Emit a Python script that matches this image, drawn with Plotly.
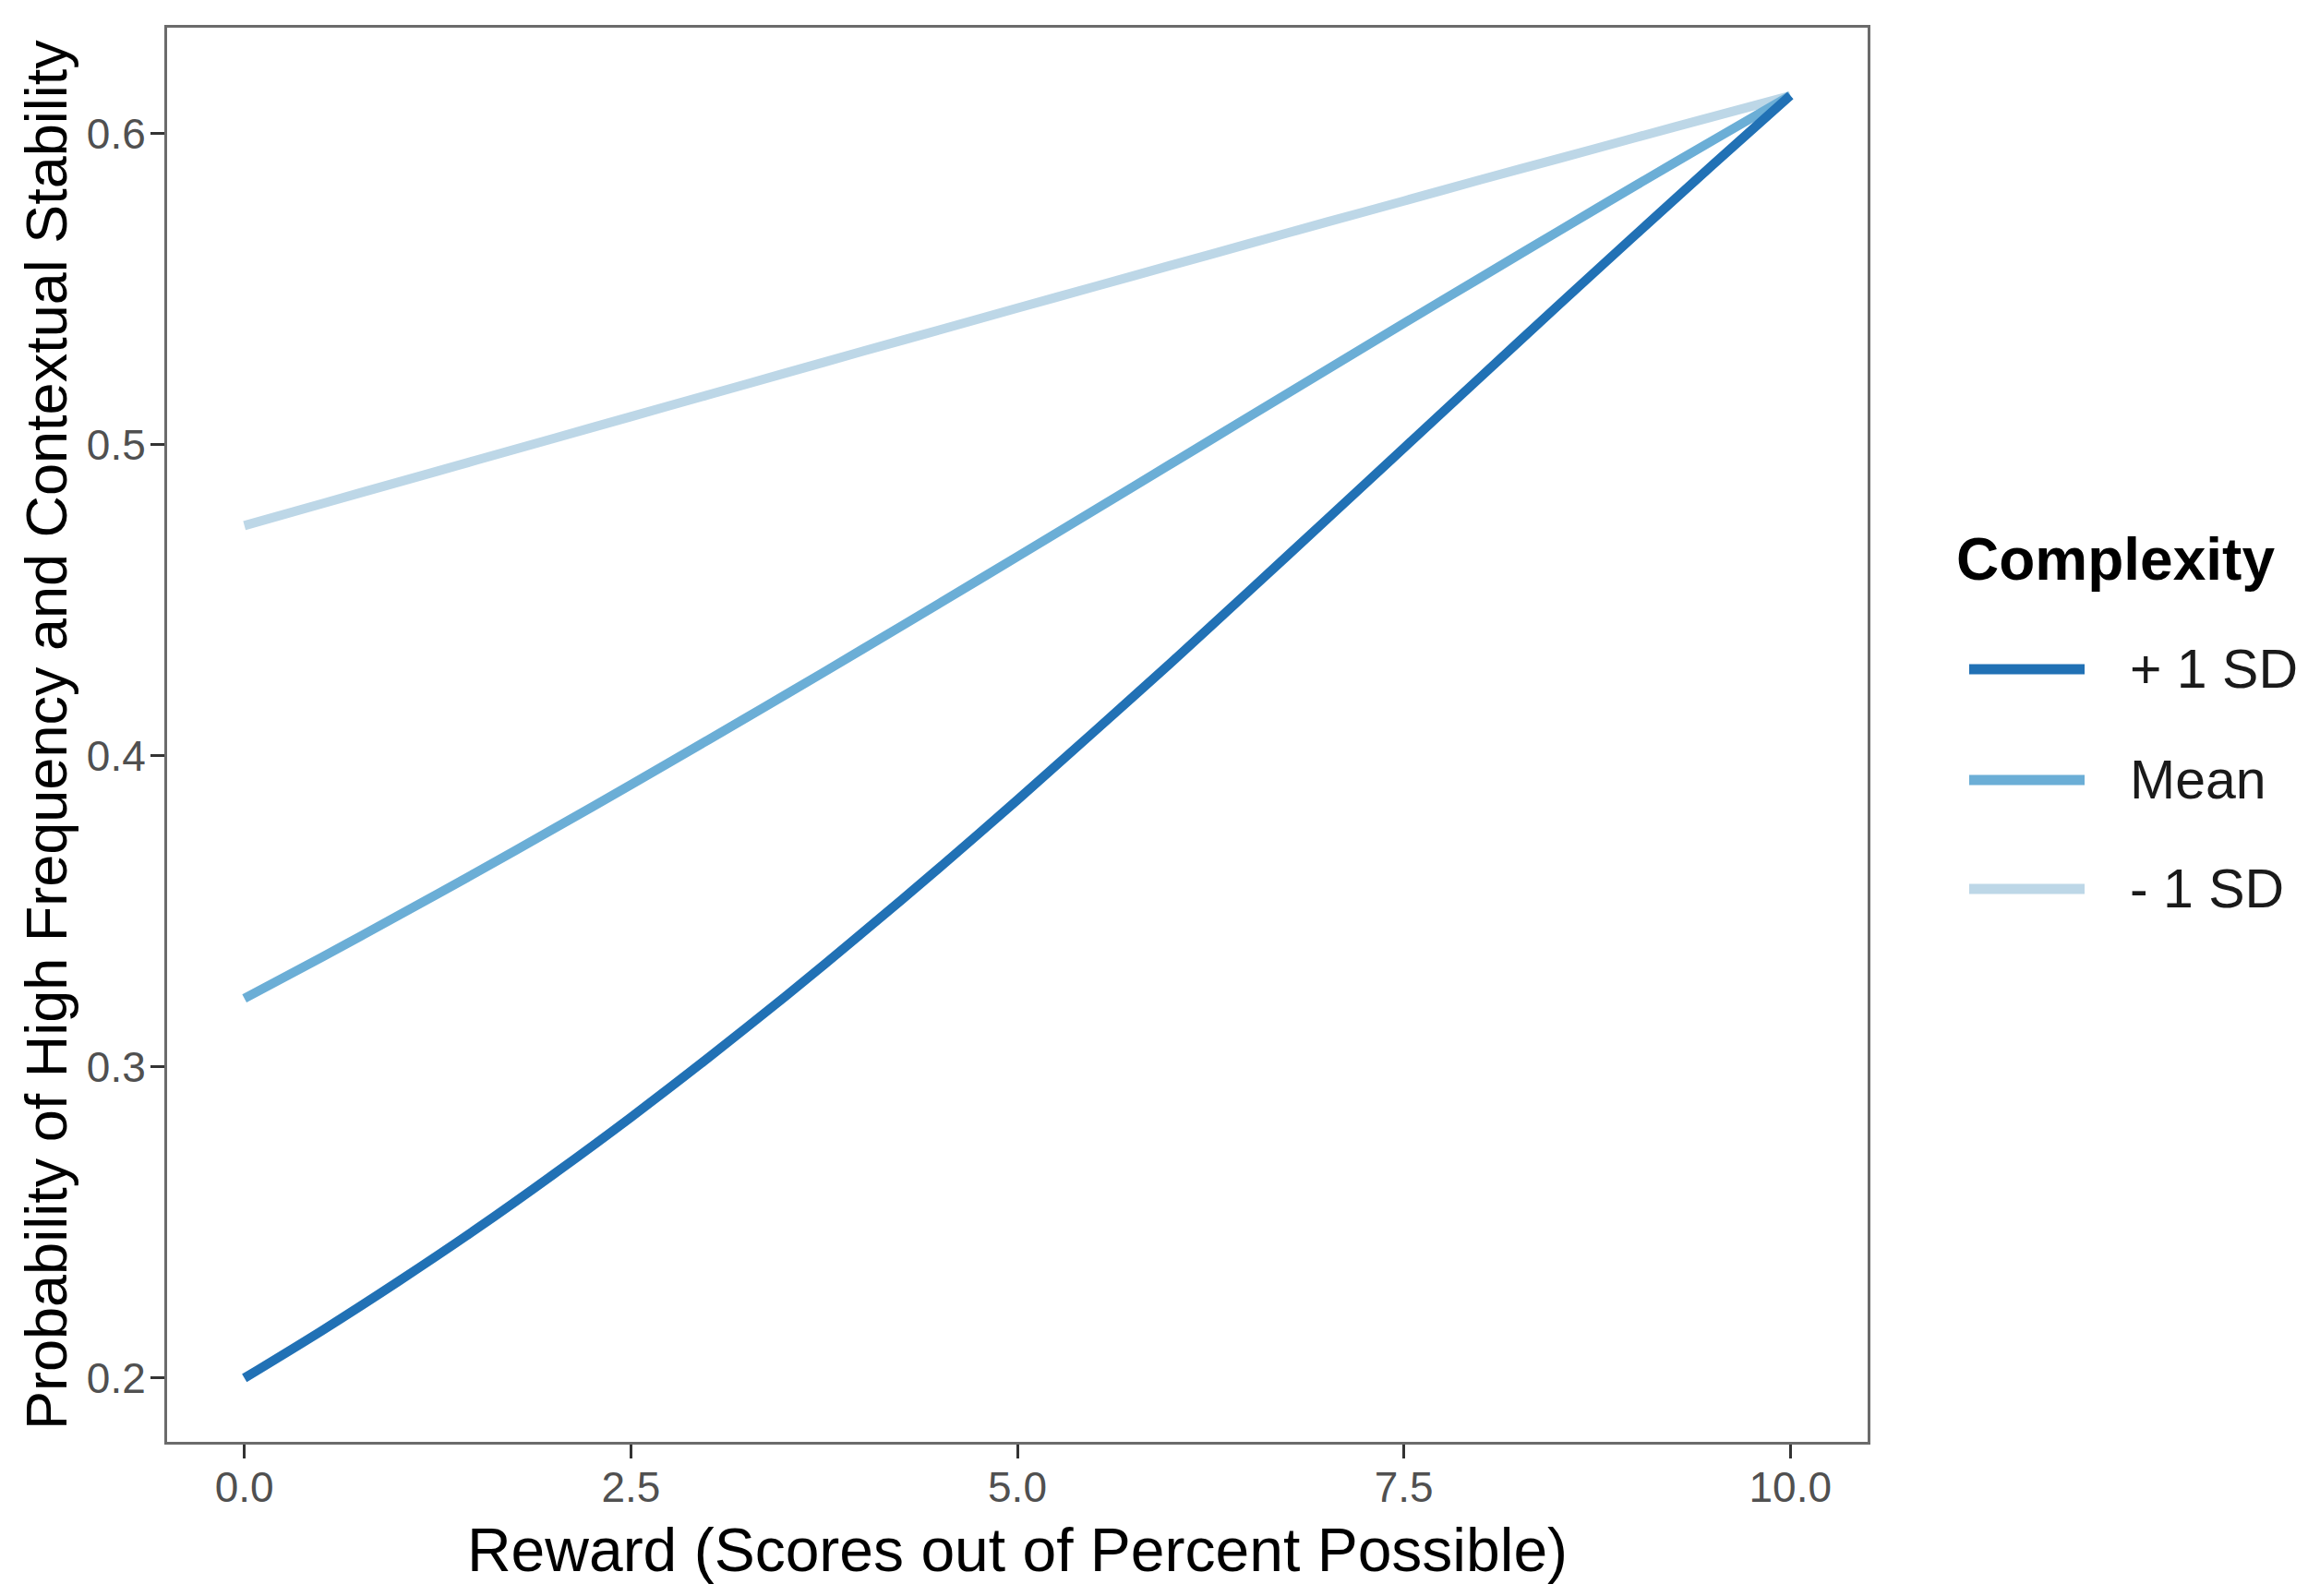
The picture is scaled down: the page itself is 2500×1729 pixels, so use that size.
import plotly.graph_objects as go

# ---- data ----
reward = [0.0, 0.5, 1.0, 1.5, 2.0, 2.5, 3.0, 3.5, 4.0, 4.5, 5.0,
          5.5, 6.0, 6.5, 7.0, 7.5, 8.0, 8.5, 9.0, 9.5, 10.0]
plus_1sd = [0.2000, 0.2152, 0.2312, 0.2479, 0.2655, 0.2838, 0.3029, 0.3227, 0.3432, 0.3642, 0.3858,
            0.4079, 0.4302, 0.4530, 0.4759, 0.4989, 0.5219, 0.5448, 0.5675, 0.5900, 0.6122]
mean_cx = [0.3220, 0.3352, 0.3488, 0.3625, 0.3765, 0.3907, 0.4051, 0.4196, 0.4343, 0.4491, 0.4640,
           0.4790, 0.4940, 0.5090, 0.5240, 0.5390, 0.5538, 0.5686, 0.5833, 0.5978, 0.6122]
minus_1sd = [0.4740, 0.4810, 0.4880, 0.4950, 0.5020, 0.5090, 0.5160, 0.5230, 0.5300, 0.5369, 0.5439,
             0.5508, 0.5577, 0.5646, 0.5715, 0.5783, 0.5852, 0.5919, 0.5987, 0.6054, 0.6121]

series_names = ["+ 1 SD", "Mean", "- 1 SD"]
series_values = [plus_1sd, mean_cx, minus_1sd]
series_colors = ["#2171B5", "#6BAED6", "#BDD7E7"]

x_ticks = [0.0, 2.5, 5.0, 7.5, 10.0]
x_tick_labels = ["0.0", "2.5", "5.0", "7.5", "10.0"]
y_ticks = [0.2, 0.3, 0.4, 0.5, 0.6]
y_tick_labels = ["0.2", "0.3", "0.4", "0.5", "0.6"]

x_title = "Reward (Scores out of Percent Possible)"
y_title = "Probability of High Frequency and Contextual Stability"
legend_title = "Complexity"

FONT = "Liberation Sans, Arial, Helvetica, sans-serif"
PAGE_W, PAGE_H = 2500, 1729
BODY = 8  # default page body margin of the html page
PL, PR, PT, PB = 181, 2023, 30, 1562  # plot area in page pixels
W, H = PAGE_W - BODY, PAGE_H - BODY

fig = go.Figure()
# draw lightest first so darker lines sit on top
for name, vals, col in reversed(list(zip(series_names, series_values, series_colors))):
    fig.add_trace(go.Scatter(x=reward, y=vals, mode="lines", name=name,
                             line=dict(color=col, width=10, shape="spline", smoothing=0.8),
                             showlegend=False))

def px_to_paper(xp, yp):
    return (xp - PL) / (PR - PL), (PB - yp) / (PB - PT)

shapes = []
annotations = []
# y-axis title
yx, yy_ = px_to_paper(50, 796)
annotations.append(dict(text=y_title, x=yx, y=yy_, xref="paper", yref="paper",
                        xanchor="center", yanchor="middle", textangle=-90, showarrow=False,
                        font=dict(family=FONT, size=63, color="#000000")))
# legend title
tx, ty = px_to_paper(2117, 606)
annotations.append(dict(text="<b>" + legend_title + "</b>", x=tx, y=ty, xref="paper", yref="paper",
                        xanchor="left", yanchor="middle", showarrow=False,
                        font=dict(family=FONT, size=64, color="#000000")))
item_y = [725, 845, 963]
for name, col, yy in zip(series_names, series_colors, item_y):
    x0, y0 = px_to_paper(2133, yy)
    x1, _ = px_to_paper(2258, yy)
    shapes.append(dict(type="line", xref="paper", yref="paper", x0=x0, x1=x1, y0=y0, y1=y0,
                       line=dict(color=col, width=11)))
    lx, _ = px_to_paper(2305, yy)
    annotations.append(dict(text=name, x=lx, y=y0, xref="paper", yref="paper",
                            xanchor="left", yanchor="middle", showarrow=False,
                            font=dict(family=FONT, size=59, color="#1a1a1a")))

axis_common = dict(showline=True, linecolor="#6b6b6b", linewidth=3, mirror=True,
                   showgrid=False, zeroline=False, ticks="outside", ticklen=15,
                   tickwidth=3, tickcolor="#333333",
                   tickfont=dict(family=FONT, size=46, color="#505050"))

fig.update_layout(
    width=W, height=H,
    margin=dict(l=PL - BODY, r=PAGE_W - PR, t=PT - BODY, b=PAGE_H - PB),
    paper_bgcolor="white", plot_bgcolor="white",
    font=dict(family=FONT),
    xaxis=dict(range=[-0.5, 10.5], tickvals=x_ticks, ticktext=x_tick_labels,
               ticklabelstandoff=-8,
               title=dict(text=x_title, standoff=20,
                          font=dict(family=FONT, size=66, color="#000000")),
               **axis_common),
    yaxis=dict(range=[0.1795, 0.634], tickvals=y_ticks, ticktext=y_tick_labels,
               ticklabelstandoff=-4,
               **axis_common),
    shapes=shapes,
    annotations=annotations,
)

fig.write_html("out.html")
